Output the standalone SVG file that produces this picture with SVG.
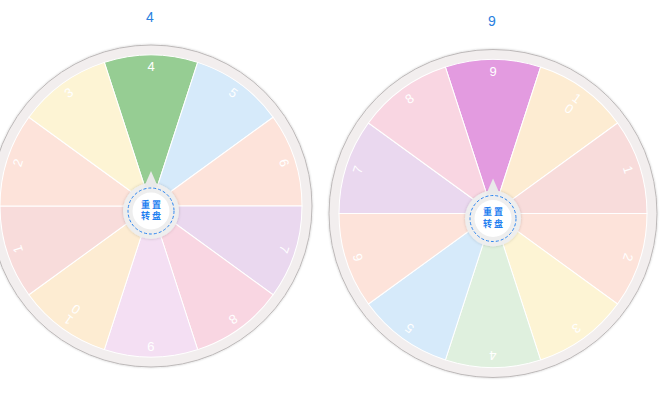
<svg xmlns="http://www.w3.org/2000/svg" xmlns:xlink="http://www.w3.org/1999/xlink" width="667" height="415" viewBox="0 0 667 415">
<style>
  .title { font-family: "Liberation Sans", "Noto Sans", sans-serif; font-size: 14px; fill: #2a7fe0; text-anchor: middle; }
  .lbl { font-family: "Liberation Sans", "Noto Sans", sans-serif; font-size: 13px; fill: #ffffff; text-anchor: middle; dominant-baseline: central; }
  .sec { stroke: #ffffff; stroke-width: 1; }
  .rim { fill: #f2eeee; stroke: #bdb9b9; stroke-width: 1; }
  .hubbg { fill: #eeeeee; filter: url(#sh); }
  .ptr { fill: #e9e9e9; }
  .dash { fill: none; stroke: #2d86f0; stroke-width: 1; stroke-dasharray: 3 2; }
  .hubin { fill: #ffffff; }
  .hubtxt { font-family: "Noto Sans CJK SC", "Liberation Sans", sans-serif; font-size: 9px; font-weight: bold; fill: #1f7ff0; text-anchor: middle; letter-spacing: 2px; }
</style>
<defs>
  <filter id="sh" x="-30%" y="-30%" width="160%" height="160%">
    <feDropShadow dx="0" dy="0" stdDeviation="1.5" flood-color="#000" flood-opacity="0.18"/>
  </filter>
  <filter id="rsh" x="-10%" y="-10%" width="120%" height="120%">
    <feDropShadow dx="0" dy="0" stdDeviation="1" flood-color="#000" flood-opacity="0.2"/>
  </filter>
  <path id="secL" d="M0,0 L-46.66,-143.61 A151,151 0 0 1 46.66,-143.61 Z"/>
  <path id="secR" d="M0,0 L-47.59,-146.46 A154,154 0 0 1 47.59,-146.46 Z"/>
  <g id="hub">
    <circle class="hubbg" cx="0" cy="5" r="28"/>
    <path class="ptr" d="M0,-35 L-7,-19 L7,-19 Z"/>
    <circle class="hubin" cx="0" cy="5" r="18.5"/>
    <circle class="dash" cx="0" cy="5" r="23"/>
    <text class="hubtxt" x="1" y="1.5">重置</text>
    <text class="hubtxt" x="1" y="13">转盘</text>
  </g>
</defs>

<text id="title-left" class="title" x="150" y="22">4</text>
<text id="title-right" class="title" x="492" y="26">9</text>

<g id="wheel-left" transform="translate(151,206)">
  <circle class="rim" r="161" filter="url(#rsh)"/>
  <g id="left-4"><use href="#secL" class="sec" fill="#96cd93" transform="rotate(0)"/><text class="lbl" x="0" y="-140" transform="rotate(0)">4</text></g>
  <g id="left-5"><use href="#secL" class="sec" fill="#d6eafa" transform="rotate(36)"/><text class="lbl" x="0" y="-140" transform="rotate(36)">5</text></g>
  <g id="left-6"><use href="#secL" class="sec" fill="#fde3da" transform="rotate(72)"/><text class="lbl" x="0" y="-140" transform="rotate(72)">6</text></g>
  <g id="left-7"><use href="#secL" class="sec" fill="#ead8ef" transform="rotate(108)"/><text class="lbl" x="0" y="-140" transform="rotate(108)">7</text></g>
  <g id="left-8"><use href="#secL" class="sec" fill="#f9d6e2" transform="rotate(144)"/><text class="lbl" x="0" y="-140" transform="rotate(144)">8</text></g>
  <g id="left-9"><use href="#secL" class="sec" fill="#f4dff3" transform="rotate(180)"/><text class="lbl" x="0" y="-140" transform="rotate(180)">9</text></g>
  <g id="left-10"><use href="#secL" class="sec" fill="#fdecd2" transform="rotate(216)"/><text class="lbl" transform="rotate(216)"><tspan x="0" y="-141">1</tspan><tspan x="0" y="-128">0</tspan></text></g>
  <g id="left-1"><use href="#secL" class="sec" fill="#f8dcdb" transform="rotate(252)"/><text class="lbl" x="0" y="-140" transform="rotate(252)">1</text></g>
  <g id="left-2"><use href="#secL" class="sec" fill="#fde3da" transform="rotate(288)"/><text class="lbl" x="0" y="-140" transform="rotate(288)">2</text></g>
  <g id="left-3"><use href="#secL" class="sec" fill="#fdf4d4" transform="rotate(324)"/><text class="lbl" x="0" y="-140" transform="rotate(324)">3</text></g>
  <g id="left-hub"><use href="#hub"/></g>
</g>

<g id="wheel-right" transform="translate(493,213.5)">
  <circle class="rim" r="164" filter="url(#rsh)"/>
  <g id="right-9"><use href="#secR" class="sec" fill="#e39be0" transform="rotate(0)"/><text class="lbl" x="0" y="-142" transform="rotate(0)">9</text></g>
  <g id="right-10"><use href="#secR" class="sec" fill="#fdecd2" transform="rotate(36)"/><text class="lbl" transform="rotate(36)"><tspan x="0" y="-143">1</tspan><tspan x="0" y="-130">0</tspan></text></g>
  <g id="right-1"><use href="#secR" class="sec" fill="#f8dcdb" transform="rotate(72)"/><text class="lbl" x="0" y="-142" transform="rotate(72)">1</text></g>
  <g id="right-2"><use href="#secR" class="sec" fill="#fde3da" transform="rotate(108)"/><text class="lbl" x="0" y="-142" transform="rotate(108)">2</text></g>
  <g id="right-3"><use href="#secR" class="sec" fill="#fdf4d4" transform="rotate(144)"/><text class="lbl" x="0" y="-142" transform="rotate(144)">3</text></g>
  <g id="right-4"><use href="#secR" class="sec" fill="#dff0de" transform="rotate(180)"/><text class="lbl" x="0" y="-142" transform="rotate(180)">4</text></g>
  <g id="right-5"><use href="#secR" class="sec" fill="#d6eafa" transform="rotate(216)"/><text class="lbl" x="0" y="-142" transform="rotate(216)">5</text></g>
  <g id="right-6"><use href="#secR" class="sec" fill="#fde3da" transform="rotate(252)"/><text class="lbl" x="0" y="-142" transform="rotate(252)">6</text></g>
  <g id="right-7"><use href="#secR" class="sec" fill="#ead8ef" transform="rotate(288)"/><text class="lbl" x="0" y="-142" transform="rotate(288)">7</text></g>
  <g id="right-8"><use href="#secR" class="sec" fill="#f9d6e2" transform="rotate(324)"/><text class="lbl" x="0" y="-142" transform="rotate(324)">8</text></g>
  <g id="right-hub"><use href="#hub"/></g>
</g>
<g id="connectors"></g>
</svg>
